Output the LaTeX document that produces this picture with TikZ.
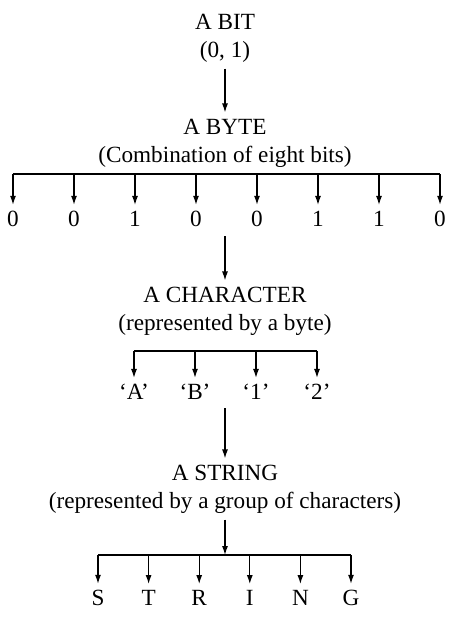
\documentclass[tikz,border=0pt]{standalone}
\usepackage{fontspec}
\setmainfont{Liberation Serif}
\usetikzlibrary{arrows.meta}
\begin{document}
\begin{tikzpicture}[x=0.5pt, y=-0.5pt, >={Latex[length=4.5pt,width=3pt]},
        level/.style={align=center, inner sep=3pt, font=\fontsize{11.6}{14}\selectfont},
        leaf/.style={inner sep=3pt, font=\fontsize{11.6}{12}\selectfont},
        link/.style={line width=0.6pt}]
        \useasboundingbox (0,0) rectangle (450,618);

        % Levels
        \node[level] (bit) at (225,38) {A BIT\\(0, 1)};
        \node[level] (byte) at (225,143) {A BYTE\\(Combination of eight bits)};
        \node[level] (char) at (225,311) {A CHARACTER\\(represented by a byte)};
        \node[level] (string) at (225,489) {A STRING\\(represented by a group of characters)};

        % Bits of the byte
        \foreach \v [count=\i] in {0,0,1,0,0,1,1,0}
            \node[leaf] (d\i) at ({13+61*(\i-1)},219) {\v};

        % Characters
        \foreach \v [count=\i] in {‘A’,‘B’,‘1’,‘2’}
            \node[leaf] (c\i) at ({134+61*(\i-1)},392) {\v};

        % Letters of the string
        \foreach \v [count=\i] in {S,T,R,I,N,G}
            \node[leaf] (s\i) at ({98+50.6*(\i-1)},598) {\v};

        % Bars and free ends
        \coordinate (bytebar) at (225,174);
        \coordinate (charbar) at (225,351);
        \coordinate (stringbar) at (225,555);
        \coordinate (bitsout) at (225,236);
        \coordinate (charsout) at (225,408);

        % Draw arrows
        \draw[link, ->] (bit) -- (byte);
        \draw[link] (bytebar -| d1) -- (bytebar -| d8);
        \foreach \i in {1,...,8}
            \draw[link, ->] (bytebar -| d\i) -- (d\i);
        \draw[link, ->] (bitsout) -- (char);
        \draw[link] (charbar -| c1) -- (charbar -| c4);
        \foreach \i in {1,...,4}
            \draw[link, ->] (charbar -| c\i) -- (c\i);
        \draw[link, ->] (charsout) -- (string);
        \draw[link, ->] (string) -- (stringbar);
        \draw[link] (stringbar -| s1) -- (stringbar -| s6);
        \foreach \i in {1,...,6}
            \draw[link, ->] (stringbar -| s\i) -- (s\i);

\end{tikzpicture}
\end{document}
